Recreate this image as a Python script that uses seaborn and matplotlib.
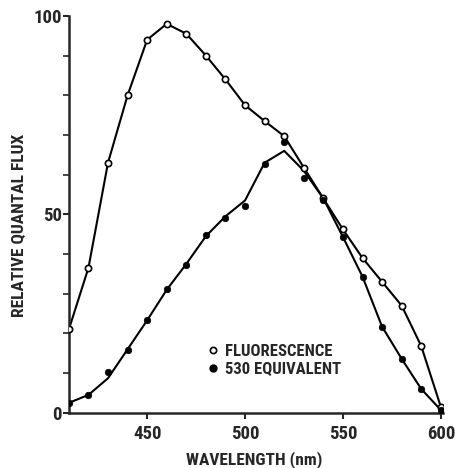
import numpy as np
import pandas as pd
import matplotlib
matplotlib.use('Agg')
import matplotlib.pyplot as plt
from matplotlib.lines import Line2D
from matplotlib import font_manager
import seaborn as sns

sns.set_style('ticks')
names = {f.name for f in font_manager.fontManager.ttflist}
narrow = [n for n in ['DejaVu Sans Condensed', 'Liberation Sans Narrow', 'Roboto Condensed'] if n in names]
plt.rcParams['font.family'] = narrow + ['DejaVu Sans']
plt.rcParams['font.weight'] = 'bold'

# wavelengths (nm)
wavelength = [410, 420, 430, 440, 450, 460, 470, 480, 490, 500,
              510, 520, 530, 540, 550, 560, 570, 580, 590, 600]
# open circles
fluorescence = [21, 36.5, 63, 80, 94, 98, 95.5, 90, 84, 77.5,
                73.5, 69.7, 61.8, 54, 46.2, 39, 33, 27, 16.8, 1.5]
# filled circles
equiv_530 = [2.4, 4.4, 10.3, 15.9, 23.3, 31.3, 37.3, 44.8, 49.2, 52.1,
             62.8, 68.3, 59.1, 53.7, 44.3, 34.3, 21.7, 13.6, 6.0, 0.7]
# hand-drawn curve through the filled points
equiv_curve = [2.5, 4.5, 8.7, 16, 23.3, 31, 37.5, 44.5, 49.5, 53.5,
               63, 66, 61, 54, 44.3, 34.3, 21.7, 13.6, 6.0, 0.7]

df = pd.DataFrame({'wavelength': wavelength, 'fluor': fluorescence,
                   'equiv': equiv_530, 'curve': equiv_curve})

fig = plt.figure(figsize=(4.56, 4.68), dpi=100)
ax = fig.add_axes([0.151, 0.118, 0.82, 0.848])

sns.lineplot(data=df, x='wavelength', y='fluor', ax=ax, color='black', linewidth=1.5)
sns.lineplot(data=df, x='wavelength', y='curve', ax=ax, color='black', linewidth=1.5)
ax.plot(df['wavelength'], df['fluor'], linestyle='none', marker='o', markersize=4.5,
        markerfacecolor='white', markeredgecolor='black', markeredgewidth=1.2, zorder=4)
sns.scatterplot(data=df, x='wavelength', y='equiv', ax=ax, color='black', s=22,
                edgecolor='black', linewidth=0.5, zorder=5)

ax.set_xlim(410, 601)
ax.set_ylim(0, 100)
ax.set_xticks([450, 500, 550, 600])
ax.set_yticks([0, 50, 100])
ax.set_yticks(np.arange(0, 101, 10), minor=True)
ax.tick_params(axis='both', which='major', labelsize=13.5, width=1.5, length=4, direction='out')
ax.tick_params(axis='y', which='minor', width=1.2, length=4, direction='out')
ax.tick_params(axis='x', pad=5)
ax.tick_params(axis='y', pad=1)

ax.set_xlabel('WAVELENGTH (nm)', fontsize=12.5, fontweight='bold')
ax.set_ylabel('RELATIVE QUANTAL FLUX', fontsize=12.5, fontweight='bold')
ax.xaxis.set_label_coords(0.495, -0.117)
ax.xaxis.label.set_va('center')
ax.yaxis.set_label_coords(-0.131, 0.473)
ax.yaxis.label.set_va('center')

sns.despine(ax=ax)
for side in ['left', 'bottom']:
    ax.spines[side].set_linewidth(1.8)

handles = [
    Line2D([], [], linestyle='none', marker='o', markersize=4.5, markerfacecolor='white',
           markeredgecolor='black', markeredgewidth=1.2),
    Line2D([], [], linestyle='none', marker='o', markersize=5, color='black'),
]
ax.legend(handles, ['FLUORESCENCE', '530 EQUIVALENT'], frameon=False,
          loc='upper left', bbox_to_anchor=(0.345, 0.19), fontsize=12,
          handletextpad=0.25, handlelength=1.0, labelspacing=0.15, borderaxespad=0)

fig.savefig('out.png', dpi=100)
